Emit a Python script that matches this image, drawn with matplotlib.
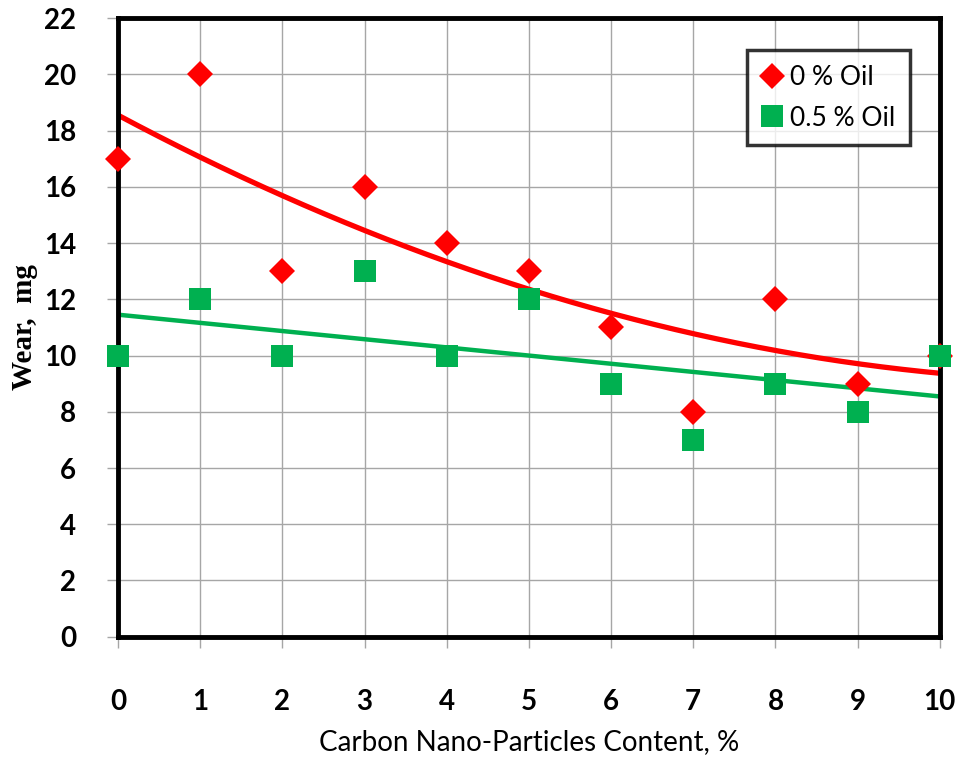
import numpy as np
import matplotlib.pyplot as plt

# Conteúdo de nanopartículas de carbono (%)
x_red = np.array([0, 1, 2, 3, 4, 5, 6, 7, 8, 9, 10])
y_red = np.array([17, 20, 13, 16, 14, 13, 11, 8, 12, 9, 10])  # 0 % Oil

x_green = np.array([0, 1, 2, 3, 4, 5, 6, 7, 8, 9, 10])
y_green = np.array([10, 12, 10, 13, 10, 12, 9, 7, 9, 8, 10])  # 0.5 % Oil

xticks = list(range(0, 11))
yticks = list(range(0, 23, 2))

# Linhas de tendência
xt = np.linspace(0, 10, 200)
p_red = np.polyfit(x_red, y_red, 2)
p_green = np.polyfit(x_green, y_green, 1)

fig = plt.figure(figsize=(9.59, 7.58), dpi=100)
ax = fig.add_axes([0.123, 0.160, 0.857, 0.816])

ax.grid(True, color='#a6a6a6', linewidth=1.0)
ax.set_axisbelow(True)

ax.plot(x_red, y_red, 'D', color='#ff0000', markersize=13, markeredgewidth=0,
        label='0 % Oil', zorder=6, clip_on=False)
ax.plot(x_green, y_green, 's', color='#00b050', markersize=16, markeredgewidth=0,
        label='0.5 % Oil', zorder=6, clip_on=False)
ax.plot(xt, np.polyval(p_red, xt), '-', color='#ff0000', linewidth=3.8, zorder=4)
ax.plot(xt, np.polyval(p_green, xt), '-', color='#00b050', linewidth=3.2, zorder=4)

ax.set_xlim(0, 10)
ax.set_ylim(0, 22)
ax.set_xticks(xticks)
ax.set_yticks(yticks)
for s in ax.spines.values():
    s.set_linewidth(3.5)
    s.set_color('black')
    s.set_zorder(5)
ax.tick_params(axis='both', length=8, width=1, color='#a6a6a6', direction='out')
ax.tick_params(axis='y', pad=22)
ax.tick_params(axis='x', pad=30)
for lab in ax.get_xticklabels() + ax.get_yticklabels():
    lab.set_fontfamily('Lato')
    lab.set_fontweight('bold')
    lab.set_fontsize(20)

ax.set_xlabel('Carbon Nano-Particles Content, %', fontfamily='Lato', fontsize=20, labelpad=10)
ax.set_ylabel('Wear,  mg', fontfamily='Liberation Serif', fontweight='bold', fontsize=21, labelpad=4)

leg = ax.legend(loc='upper right', bbox_to_anchor=(0.964, 0.948), prop={'family': 'Lato', 'size': 19},
                frameon=True, fancybox=False, edgecolor='black', handlelength=0.8, handletextpad=0.3,
                borderpad=0.55, labelspacing=0.6, borderaxespad=0, markerscale=1.0)
leg.get_frame().set_linewidth(2.5)
leg.set_zorder(7)

plt.savefig('out.png', dpi=100)
